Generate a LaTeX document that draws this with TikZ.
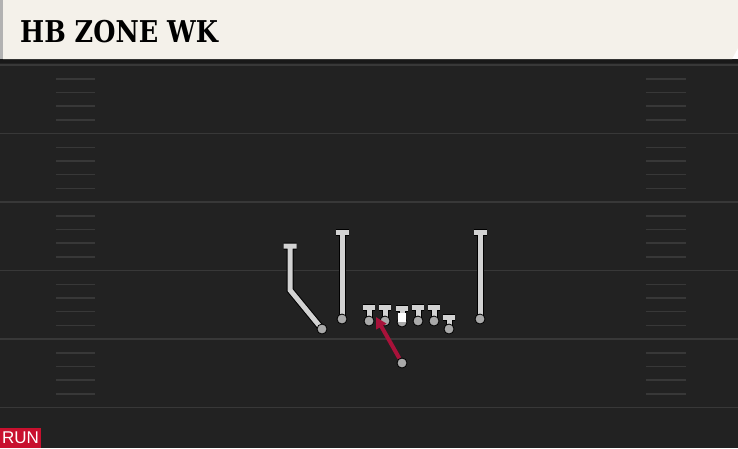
\documentclass[tikz,border=0pt]{standalone}
\usepackage{fontspec}
\usetikzlibrary{arrows.meta,positioning}
\setmainfont{DejaVu Serif}
\newfontfamily\runfont{Liberation Sans}
\definecolor{field}{HTML}{222222}
\definecolor{yardline}{HTML}{383838}
\definecolor{header}{HTML}{F4F1EA}
\definecolor{routegray}{HTML}{D2D2D2}
\definecolor{dotgray}{HTML}{A9A9A9}
\definecolor{runred}{HTML}{C8102E}
\definecolor{arrowred}{HTML}{A8123A}
\pgfdeclarelayer{bg}
\pgfdeclarelayer{back}
\pgfsetlayers{bg,back,main}
\def\Play{HB ZONE WK}

\begin{document}
\begin{tikzpicture}[x=1pt,y=-1pt,% pixel units, y runs downwards
			player/.style={circle,draw=black,line width=0.8pt,fill=dotgray,
				inner sep=0pt,minimum size=10pt},
			route/.style={draw=routegray,line width=5pt,
				preaction={draw=black,line width=7pt}},	% stem with black rim
			ball/.style={rectangle,fill=white,inner sep=0pt,
				minimum width=7.5pt,minimum height=9pt},
			runroute/.style={draw=arrowred,line width=4pt,
				-{Triangle[length=11pt,width=11pt]}},
			hash/.style={draw=yardline,line width=1.6pt}
		]
		\useasboundingbox (0,0) rectangle (738,448);
		\begin{pgfonlayer}{bg}
		% field and yard lines
		\fill[field] (0,59) rectangle (738,448);
		\fill[black!90] (0,59) rectangle (738,63);
		\foreach \y in {65,133.5,202,270.5,339,407.5}
			\draw[yardline,line width=1.8pt] (0,\y) -- (738,\y);
		\foreach \y in {65,133.5,202,270.5,339}
			\foreach \d in {14,27.5,41,55}{
				\draw[hash] (56,\y+\d) -- (95,\y+\d);
				\draw[hash] (646,\y+\d) -- (686,\y+\d);
			}
		% title bar
		\fill[header] (3,0) -- (738,0) -- (738,48) -- (732,59) -- (3,59) -- cycle;
		\fill[gray!60] (0,0) rectangle (3,59);
		\end{pgfonlayer}
		\node[anchor=base west,inner sep=0pt,font=\bfseries\fontsize{30}{30}\selectfont]
			(title) at (20,42) {\scalebox{0.85}[1]{\Play}};
		\node[fill=runred,text=white,anchor=south west,inner sep=2pt,
			minimum width=40pt,minimum height=20pt,font=\runfont\fontsize{17}{17}\selectfont]
			(run) at (0,448) {RUN};

		% players
		\node[player] (WRa) at (322,329) {};
		\node[player] (WRb) at (342,319) {};
		\node[player] (LT) at (369,321) {};
		\node[player] (LG) at (385,321) {};
		\node[player] (C) at (402,322) {};
		\node[player] (RG) at (418,321) {};
		\node[player] (RT) at (434,321) {};
		\node[player] (TE) at (449,329) {};
		\node[player] (WRc) at (480,319) {};
		\node[player] (HB) at (402,363) {};
		\node[ball] (snap) at (402,317) {};

		% block ends
		\coordinate (WRabend) at (290,290);
		\coordinate (WRaend) at (290,246);
		\coordinate (WRbend) at (342,232);
		\coordinate (WRcend) at (480,232);
		\coordinate (HBend) at (376,317);
		\foreach \p in {LT,LG,C,RG,RT}
			\coordinate (\p end) at ([yshift=14pt]\p.center);
		\coordinate (TEend) at ([yshift=12pt]TE.center);

		\begin{pgfonlayer}{back}
			\path[route] (WRa.center) -- (WRabend) -- (WRaend)
				([xshift=-6.5pt]WRaend) -- ([xshift=6.5pt]WRaend);
			\foreach \p in {WRb,WRc}
				\path[route] (\p.center) -- (\p end)
					([xshift=-6.5pt]\p end) -- ([xshift=6.5pt]\p end);
			\foreach \p in {LT,LG,C,RG,RT,TE}
				\path[route] (\p.center) -- (\p end)
					([xshift=-6pt]\p end) -- ([xshift=6pt]\p end);
		\end{pgfonlayer}
		\path[runroute] (HB) -- (HBend);
	\end{tikzpicture}
\end{document}
